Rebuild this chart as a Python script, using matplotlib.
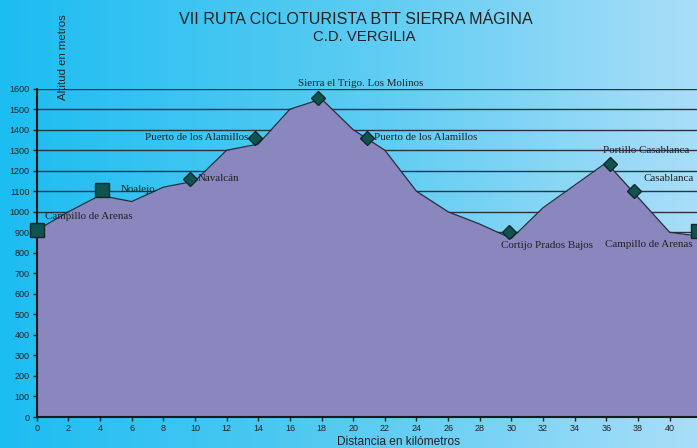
import numpy as np
import matplotlib
matplotlib.use("Agg")
import matplotlib.pyplot as plt
from matplotlib.colors import LinearSegmentedColormap

# ---- data ----
dist_km = [0, 2, 4, 6, 8, 10, 12, 14, 16, 18, 20, 22, 24, 26, 28, 30, 32, 34, 36, 38, 40, 42]
altitude_m = [910, 1000, 1080, 1050, 1120, 1150, 1300, 1330, 1500, 1550, 1400, 1300, 1100,
              1000, 940, 870, 1020, 1130, 1240, 1070, 900, 880]

square_names = ["Campillo de Arenas", "Noalejo", "Campillo de Arenas"]
square_km = [0.0, 4.15, 41.8]
square_alt = [910, 1105, 905]

diamond_names = ["Navalcán", "Puerto de los Alamillos", "Sierra el Trigo. Los Molinos",
                 "Puerto de los Alamillos", "Cortijo Prados Bajos", "Portillo Casablanca",
                 "Casablanca"]
diamond_km = [9.7, 13.8, 17.8, 20.9, 29.85, 36.2, 37.75]
diamond_alt = [1160, 1360, 1555, 1360, 900, 1235, 1100]

# label anchor positions (km, m, horizontal alignment)
label_texts = ["Campillo de Arenas", "Noalejo", "Navalcán", "Puerto de los Alamillos",
               "Sierra el Trigo. Los Molinos", "Puerto de los Alamillos",
               "Cortijo Prados Bajos", "Portillo Casablanca", "Casablanca",
               "Campillo de Arenas"]
label_km = [0.52, 5.33, 10.17, 13.37, 16.53, 21.33, 29.32, 35.77, 38.33, 35.9]
label_alt = [977, 1107, 1161, 1360, 1623, 1360, 836, 1298, 1161, 842]
label_ha = ["left", "left", "left", "right", "left", "left", "left", "left", "left", "left"]

title = "VII RUTA CICLOTURISTA BTT SIERRA MÁGINA"
subtitle = "C.D. VERGILIA"
xlabel = "Distancia en kilómetros"
ylabel = "Altitud en metros"

W, H = 697, 448
fig = plt.figure(figsize=(W / 100, H / 100), dpi=100)

# background gradient
bg = fig.add_axes([0, 0, 1, 1], zorder=-5)
cmap = LinearSegmentedColormap.from_list("bg", ["#1cbdf1", "#58cbf2", "#a9def8"])
grad = np.linspace(0, 1, 256).reshape(1, -1)
bg.imshow(grad, aspect="auto", cmap=cmap, extent=[0, 1, 0, 1])
bg.set_axis_off()

left = 36.7 / W
bottom = 1 - 417 / H
top = 1 - 88.7 / H
ax = fig.add_axes([left, bottom, 1 - left, top - bottom])
ax.set_facecolor("none")

ax.fill_between(dist_km, altitude_m, 0, color="#8a86be", zorder=1, lw=0)
ax.plot(dist_km, altitude_m, color="#2b2b3a", lw=0.9, zorder=2)

ax.plot(square_km, square_alt, ls="none", marker="s", ms=10, mfc="#0f5452",
        mec="#142626", mew=1.0, zorder=4, clip_on=False)
ax.plot(diamond_km, diamond_alt, ls="none", marker="D", ms=7, mfc="#0f5452",
        mec="#142626", mew=1.0, zorder=4, clip_on=False)

for t, xk, ya, ha in zip(label_texts, label_km, label_alt, label_ha):
    ax.text(xk, ya, t, ha=ha, va="center", fontsize=7.9, family="Liberation Serif",
            color="#222222", zorder=5, clip_on=False)

ax.set_xlim(0, (W - 36.7) / 15.825)
ax.set_ylim(0, 1600)
ax.set_xticks(np.arange(0, 42, 2))
ax.set_yticks(np.arange(0, 1601, 100))
ax.yaxis.grid(True, color="#2a3440", lw=1.0)
ax.set_axisbelow(True)
ax.tick_params(axis="both", labelsize=6.5, length=3, width=1, color="#222222",
               labelcolor="#222222", pad=2)
for lab in ax.get_xticklabels() + ax.get_yticklabels():
    lab.set_family("Liberation Sans")
for s in ["top", "right"]:
    ax.spines[s].set_visible(False)
for s in ["left", "bottom"]:
    ax.spines[s].set_linewidth(1.5)
    ax.spines[s].set_color("#1a1a1a")

fig.text(355.4 / W, 1 - 19.5 / H, title, ha="center", va="center", fontsize=11.6,
         family="Liberation Sans", color="#222222")
fig.text(363.8 / W, 1 - 37 / H, subtitle, ha="center", va="center", fontsize=10.7,
         family="Liberation Sans", color="#222222")
fig.text(398.3 / W, 1 - 441.7 / H, xlabel, ha="center", va="center", fontsize=8.6,
         family="Liberation Sans", color="#222222")
fig.text(63.3 / W, 1 - 57.5 / H, ylabel, ha="center", va="center", rotation=90,
         fontsize=8.2, family="Liberation Sans", color="#222222")

fig.savefig("out.png", dpi=100)
